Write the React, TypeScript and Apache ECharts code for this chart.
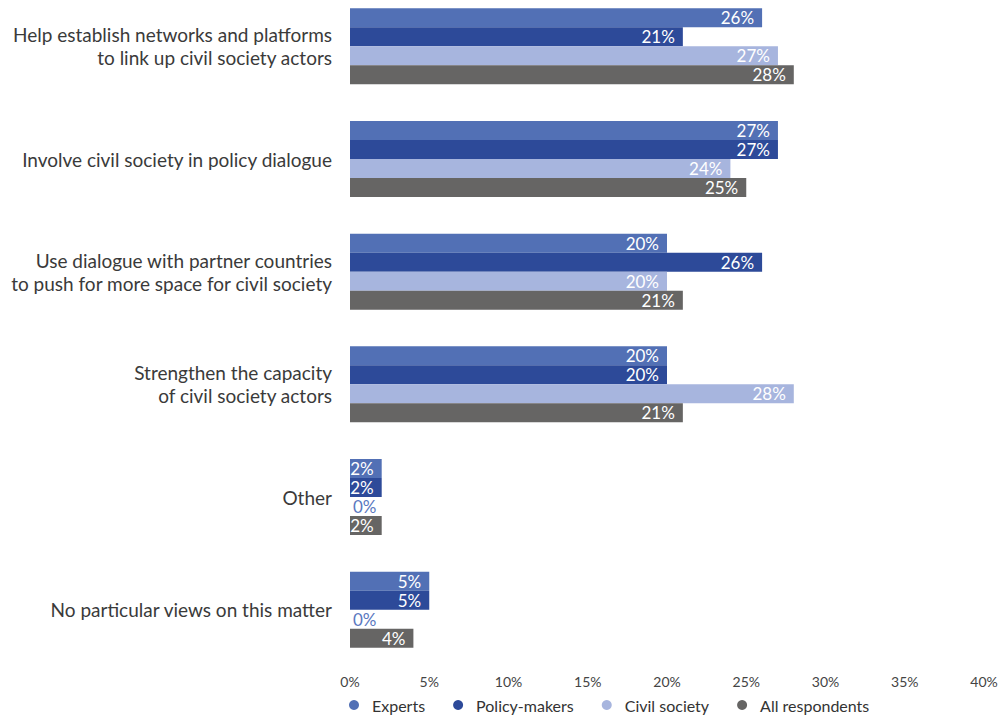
import React, { useEffect, useRef } from "react";
import * as echarts from "echarts";

const categories = [
  "Help establish networks and platforms\nto link up civil society actors",
  "Involve civil society in policy dialogue",
  "Use dialogue with partner countries\nto push for more space for civil society",
  "Strengthen the capacity\nof civil society actors",
  "Other",
  "No particular views on this matter",
];
const seriesNames = ["Experts", "Policy-makers", "Civil society", "All respondents"];
const experts = [26, 27, 20, 20, 2, 5];
const policyMakers = [21, 27, 26, 20, 2, 5];
const civilSociety = [27, 24, 20, 28, 0, 0];
const allRespondents = [28, 25, 21, 21, 2, 4];
const colors = ["#5270b5", "#2d4a99", "#a7b5de", "#666564"];
const xTicks = [0, 5, 10, 15, 20, 25, 30, 35, 40];

const FONT = "Lato";
const SHIFT = 10;

export default function App() {
  const ref = useRef<HTMLDivElement>(null);
  useEffect(() => {
    if (!ref.current) return;
    const chart = echarts.init(ref.current, undefined, { renderer: "svg" });
    const allData = [experts, policyMakers, civilSociety, allRespondents];
    chart.setOption({
      animation: false,
      textStyle: { fontFamily: FONT },
      grid: { left: 350, right: 17, top: 0, height: 676, containLabel: false },
      legend: {
        left: 349,
        top: 697 + SHIFT,
        icon: "circle",
        itemWidth: 10,
        itemHeight: 10,
        itemGap: 28,
        padding: 0,
        textStyle: { fontSize: 16, color: "#333", fontFamily: FONT, padding: [0, 0, 0, 8] },
        data: seriesNames,
      },
      xAxis: {
        type: "value",
        min: xTicks[0],
        max: xTicks[xTicks.length - 1],
        interval: 5,
        axisLine: { show: false },
        axisTick: { show: false },
        splitLine: { show: false },
        axisLabel: {
          formatter: "{value}%",
          fontSize: 14,
          color: "#444",
          margin: 8,
          fontFamily: FONT,
        },
      },
      yAxis: {
        type: "category",
        inverse: true,
        data: categories,
        axisLine: { show: false },
        axisTick: { show: false },
        axisLabel: {
          fontSize: 19,
          color: "#3a3a3a",
          margin: 18,
          lineHeight: 23,
          align: "right",
          fontFamily: FONT,
        },
      },
      series: seriesNames.map((name, i) => ({
        name,
        type: "bar",
        barWidth: 19,
        barGap: "0%",
        itemStyle: { color: colors[i] },
        label: {
          show: true,
          position: "insideRight",
          distance: 8,
          color: "#fff",
          fontSize: 17,
          fontFamily: FONT,
          formatter: "{c}%",
        },
        data: allData[i].map((v) =>
          v === 0
            ? { value: v, label: { position: "right", distance: 3, color: "#5a78c0" } }
            : v
        ),
      })),
    });
    return () => chart.dispose();
  }, []);
  return (
    <div
      ref={ref}
      style={{ width: 1001, height: 715 + SHIFT, position: "absolute", left: 0, top: -SHIFT }}
    />
  );
}
